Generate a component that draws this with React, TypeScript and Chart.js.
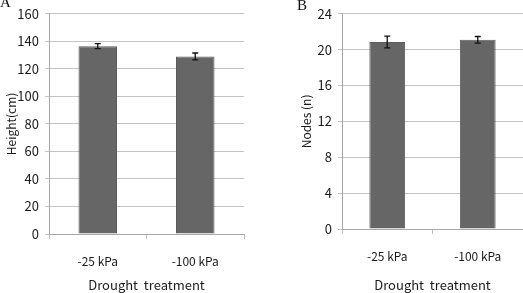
import React, { useEffect, useRef } from "react";
import { Chart, registerables } from "chart.js";

Chart.register(...registerables);

const categories = ["-25 kPa", "-100 kPa"];
const heightMeans = [136.5, 129];
const heightErrors = [1.8, 2.5];
const nodeMeans = [20.85, 21.1];
const nodeErrors = [0.65, 0.37];
const heightTicks = { min: 0, max: 160, step: 20 };
const nodeTicks = { min: 0, max: 24, step: 4 };

const FONT = "'Noto Sans CJK KR', 'Noto Sans', sans-serif";

const errorBarPlugin = {
  id: "errorBars",
  afterDatasetsDraw(chart: any) {
    const errs: number[] = chart.options.plugins.errorBars?.errors || [];
    const ctx = chart.ctx;
    const meta = chart.getDatasetMeta(0);
    const yScale = chart.scales.y;
    const data = chart.data.datasets[0].data as number[];
    ctx.save();
    ctx.strokeStyle = "#111111";
    ctx.lineWidth = 1.3;
    meta.data.forEach((bar: any, i: number) => {
      const x = bar.x;
      const top = yScale.getPixelForValue(data[i] + errs[i]);
      const bot = yScale.getPixelForValue(data[i] - errs[i]);
      const cap = 3;
      ctx.beginPath();
      ctx.moveTo(x, top);
      ctx.lineTo(x, bot);
      ctx.moveTo(x - cap, top);
      ctx.lineTo(x + cap, top);
      ctx.moveTo(x - cap, bot);
      ctx.lineTo(x + cap, bot);
      ctx.stroke();
    });
    ctx.restore();
  },
};

function makeConfig(
  values: number[],
  errors: number[],
  ticks: { min: number; max: number; step: number },
  yTitle: string,
  yWidth: number,
  yTitlePad: number,
  xHeight: number,
  padTop: number,
  padRight: number
): any {
  return {
    type: "bar",
    data: {
      labels: categories,
      datasets: [
        {
          data: values,
          backgroundColor: "#666666",
          borderColor: "#5c5c5c",
          borderWidth: 1,
          categoryPercentage: 1,
          barPercentage: 0.395,
        },
      ],
    },
    plugins: [errorBarPlugin],
    options: {
      responsive: false,
      animation: false,
      layout: { padding: { top: padTop, right: padRight, left: 0, bottom: 0 } },
      plugins: {
        legend: { display: false },
        tooltip: { enabled: false },
        errorBars: { errors },
      },
      scales: {
        x: {
          grid: {
            display: true,
            drawOnChartArea: false,
            drawTicks: true,
            tickLength: 5,
            color: "#bdbdbd",
            offset: true,
          },
          border: { color: "#a8a8a8", width: 1 },
          ticks: {
            color: "#1a1a1a",
            padding: 15,
            font: { family: FONT, size: 12 },
          },
          title: {
            display: true,
            text: "Drought  treatment",
            color: "#1a1a1a",
            font: { family: FONT, size: 13 },
            padding: { top: 0, bottom: 0 },
          },
          afterFit(scale: any) {
            scale.height = xHeight;
          },
        },
        y: {
          min: ticks.min,
          max: ticks.max,
          grid: { color: "#c4c4c4", tickLength: 4 },
          border: { color: "#a8a8a8", width: 1 },
          ticks: {
            stepSize: ticks.step,
            color: "#1a1a1a",
            padding: 6,
            font: { family: FONT, size: 13 },
          },
          title: {
            display: true,
            text: yTitle,
            color: "#1a1a1a",
            font: { family: FONT, size: 12 },
            padding: { top: yTitlePad, bottom: 0 },
          },
          afterFit(scale: any) {
            scale.width = yWidth;
          },
        },
      },
    },
  };
}

function BarChart(props: { config: any; left: number; width: number }) {
  const ref = useRef<HTMLCanvasElement | null>(null);
  useEffect(() => {
    if (!ref.current) return;
    const chart = new Chart(ref.current, props.config);
    return () => chart.destroy();
  }, []);
  return (
    <canvas
      ref={ref}
      width={props.width}
      height={293}
      style={{ position: "absolute", left: props.left, top: 0, width: props.width, height: 293 }}
    />
  );
}

export default function App() {
  const cfgA = makeConfig(heightMeans, heightErrors, heightTicks, "Height(cm)", 49, 4, 59, 9.5, 14);
  const cfgB = makeConfig(nodeMeans, nodeErrors, nodeTicks, "Nodes (n)", 80, 37.5, 64, 9.3, 0);
  return (
    <div
      style={{
        position: "fixed",
        left: 0,
        top: 0,
        width: 523,
        height: 293,
        background: "#ffffff",
        overflow: "hidden",
      }}
    >
      <BarChart config={cfgA} left={0} width={258} />
      <BarChart config={cfgB} left={262} width={261} />
      <div
        style={{
          position: "absolute",
          left: 0,
          top: -6,
          fontFamily: "'Liberation Serif', serif",
          fontSize: 15,
          color: "#111",
        }}
      >
        A
      </div>
      <div
        style={{
          position: "absolute",
          left: 297,
          top: -3,
          fontFamily: "'Liberation Serif', serif",
          fontSize: 15,
          color: "#111",
        }}
      >
        B
      </div>
    </div>
  );
}
